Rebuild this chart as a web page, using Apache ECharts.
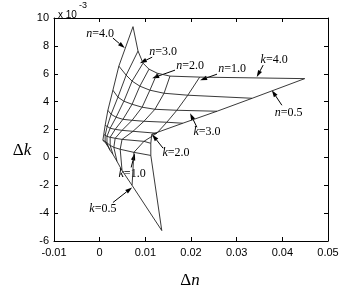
<!DOCTYPE html>
<html>
<head>
<meta charset="utf-8">
<script src="https://cdn.jsdelivr.net/npm/echarts@6/dist/echarts.min.js"></script>
<style>
  html, body { margin: 0; padding: 0; background: #fff; }
  #chart { width: 342px; height: 297px; }
</style>
</head>
<body>
<div id="chart"></div>
<script>
// mesh: columns follow nVals, dk in units of 1e-3
const nVals = [4.0, 3.5, 3.0, 2.5, 2.0, 1.5, 1.0, 0.5];
const kVals = [0.5, 1.0, 1.5, 2.0, 2.5, 3.0, 3.5, 4.0];

const dn_k05 = [0.0014, 0.0018, 0.0023, 0.0029, 0.0038, 0.0049, 0.0071, 0.0136];
const dk_k05 = [1.01, 0.79, 0.50, 0.22, -0.29, -0.94, -2.01, -5.25];
const dn_k10 = [0.0007, 0.0012, 0.0016, 0.0023, 0.0031, 0.0045, 0.0075, 0.0112];
const dk_k10 = [1.22, 1.15, 1.01, 0.86, 0.72, 0.58, 0.36, 0.14];
const dn_k15 = [0.0009, 0.0012, 0.0016, 0.0023, 0.0034, 0.0049, 0.0097, 0.0112];
const dk_k15 = [1.65, 1.58, 1.51, 1.44, 1.37, 1.29, 1.15, 1.01];
const dn_k20 = [0.0012, 0.0016, 0.0023, 0.0034, 0.0049, 0.0073, 0.0125, 0.0114];
const dk_k20 = [2.30, 2.16, 2.09, 2.01, 1.94, 1.87, 1.73, 1.65];
const dn_k25 = [0.0018, 0.0025, 0.0036, 0.0051, 0.0071, 0.0097, 0.0147, 0.0182];
const dk_k25 = [3.38, 3.09, 2.88, 2.73, 2.66, 2.59, 2.52, 2.45];
const dn_k30 = [0.0029, 0.0040, 0.0053, 0.0071, 0.0093, 0.0121, 0.0169, 0.0257];
const dk_k30 = [4.82, 4.32, 4.03, 3.81, 3.60, 3.45, 3.38, 3.31];
const dn_k35 = [0.0042, 0.0058, 0.0071, 0.0088, 0.0110, 0.0141, 0.0193, 0.0334];
const dk_k35 = [6.55, 5.90, 5.47, 5.11, 4.82, 4.60, 4.46, 4.24];
const dn_k40 = [0.0073, 0.0084, 0.0095, 0.0108, 0.0126, 0.0154, 0.0219, 0.0449];
const dk_k40 = [9.38, 7.63, 6.76, 6.33, 6.04, 5.83, 5.76, 5.65];

const dnRows = [dn_k05, dn_k10, dn_k15, dn_k20, dn_k25, dn_k30, dn_k35, dn_k40];
const dkRows = [dk_k05, dk_k10, dk_k15, dk_k20, dk_k25, dk_k30, dk_k35, dk_k40];

const xTicks = [-0.01, 0, 0.01, 0.02, 0.03, 0.04, 0.05];
const yTicks = [-6, -4, -2, 0, 2, 4, 6, 8, 10];

// annotations: [letter, value, text pos, arrow start, arrow tip]
const notes = [
  ["n", "4.0", [0.0001, 8.85], [0.0029, 8.56], [0.0055, 7.84]],
  ["n", "3.0", [0.0139, 7.55], [0.0115, 7.19], [0.0088, 6.76]],
  ["n", "2.0", [0.0198, 6.55], [0.0165, 6.26], [0.0115, 5.68]],
  ["n", "1.0", [0.0290, 6.33], [0.0257, 5.97], [0.0220, 5.54]],
  ["k", "4.0", [0.0382, 6.98], [0.0358, 6.62], [0.0344, 5.76]],
  ["n", "0.5", [0.0414, 3.17], [0.0399, 3.74], [0.0377, 4.82]],
  ["k", "3.0", [0.0235, 1.80], [0.0213, 2.16], [0.0198, 3.17]],
  ["k", "2.0", [0.0167, 0.29], [0.0139, 0.65], [0.0115, 1.65]],
  ["k", "1.0", [0.0071, -1.15], [0.0069, -0.72], [0.0077, 0.29]],
  ["k", "0.5", [0.0007, -3.67], [0.0029, -3.24], [0.0071, -2.16]]
];

const series = [];
kVals.forEach((k, i) => {
  series.push({
    name: "k=" + k,
    type: "line",
    silent: true,
    symbol: "none",
    lineStyle: { color: "#222", width: 0.9 },
    data: nVals.map((n, j) => [dnRows[i][j], dkRows[i][j]]),
  });
});
nVals.forEach((n, j) => {
  series.push({
    name: "n=" + n,
    type: "line",
    silent: true,
    symbol: "none",
    lineStyle: { color: "#222", width: 0.9 },
    data: kVals.map((k, i) => [dnRows[i][j], dkRows[i][j]]),
  });
});

const tickFont = { color: "#000", fontSize: 11, fontFamily: "Liberation Sans, Arial, sans-serif" };
const xFmt = (v) => {
  const r = Math.round(v * 100) / 100;
  return xTicks.includes(r) ? String(r) : "";
};
const baseX = {
  type: "value",
  min: -0.01,
  max: 0.05,
  interval: 0.01,
  splitLine: { show: false },
  axisLine: { onZero: false, lineStyle: { color: "#000", width: 1 } },
  axisTick: { inside: true, length: 4, lineStyle: { color: "#000" } },
};
const baseY = {
  type: "value",
  min: -6,
  max: 10,
  interval: 2,
  splitLine: { show: false },
  axisLine: { onZero: false, lineStyle: { color: "#000", width: 1 } },
  axisTick: { inside: true, length: 4, lineStyle: { color: "#000" } },
};

const chart = echarts.init(document.getElementById("chart"), null, { renderer: "canvas" });
chart.setOption({
  animation: false,
  backgroundColor: "#fff",
  grid: { left: 54, right: 14, top: 18, bottom: 56 },
  xAxis: [
    Object.assign({}, baseX, { position: "bottom", axisLabel: Object.assign({ margin: 6, formatter: xFmt }, tickFont) }),
    Object.assign({}, baseX, { position: "top", axisLabel: { show: false } }),
  ],
  yAxis: [
    Object.assign({}, baseY, { position: "left", axisLabel: Object.assign({ margin: 5 }, tickFont) }),
    Object.assign({}, baseY, { position: "right", axisLabel: { show: false } }),
  ],
  series: series,
});

// labels, arrows and axis titles
const px = (p) => chart.convertToPixel({ xAxisIndex: 0, yAxisIndex: 0 }, p);
const graphics = [];
notes.forEach(([letter, val, tp, a0, a1]) => {
  const t = px(tp), s = px(a0), e = px(a1);
  graphics.push({
    type: "text",
    x: t[0], y: t[1],
    silent: true,
    style: {
      text: "{i|" + letter + "}=" + val,
      align: "center",
      verticalAlign: "middle",
      fontFamily: "Liberation Serif, Times New Roman, serif",
      fontSize: 12,
      fill: "#000",
      rich: { i: { fontStyle: "italic", fontFamily: "Liberation Serif, Times New Roman, serif", fontSize: 12 } },
    },
  });
  const dx = e[0] - s[0], dy = e[1] - s[1];
  const len = Math.sqrt(dx * dx + dy * dy);
  const ux = dx / len, uy = dy / len;
  const hl = 7, hw = 2.2;
  const bx = e[0] - ux * hl, by = e[1] - uy * hl;
  graphics.push({
    type: "line",
    silent: true,
    shape: { x1: s[0], y1: s[1], x2: bx, y2: by },
    style: { stroke: "#000", lineWidth: 1 },
  });
  graphics.push({
    type: "polygon",
    silent: true,
    shape: { points: [[e[0], e[1]], [bx - uy * hw, by + ux * hw], [bx + uy * hw, by - ux * hw]] },
    style: { fill: "#000" },
  });
});
graphics.push(
  { type: "text", left: 58, top: 10, silent: true,
    style: { text: "x 10", fontSize: 10, fontFamily: "Liberation Sans, Arial, sans-serif", fill: "#000" } },
  { type: "text", left: 79, top: 1, silent: true,
    style: { text: "-3", fontSize: 9, fontFamily: "Liberation Sans, Arial, sans-serif", fill: "#000" } },
  { type: "text", x: 22, y: 151, silent: true,
    style: { text: "Δ{i|k}", align: "center", verticalAlign: "middle", fontSize: 17,
      fontFamily: "Liberation Serif, Times New Roman, serif", fill: "#000",
      rich: { i: { fontStyle: "italic", fontSize: 17, fontFamily: "Liberation Serif, Times New Roman, serif" } } } },
  { type: "text", x: 190, y: 281, silent: true,
    style: { text: "Δ{i|n}", align: "center", verticalAlign: "middle", fontSize: 17,
      fontFamily: "Liberation Serif, Times New Roman, serif", fill: "#000",
      rich: { i: { fontStyle: "italic", fontSize: 17, fontFamily: "Liberation Serif, Times New Roman, serif" } } } }
);
chart.setOption({ graphic: graphics });
</script>
</body>
</html>
